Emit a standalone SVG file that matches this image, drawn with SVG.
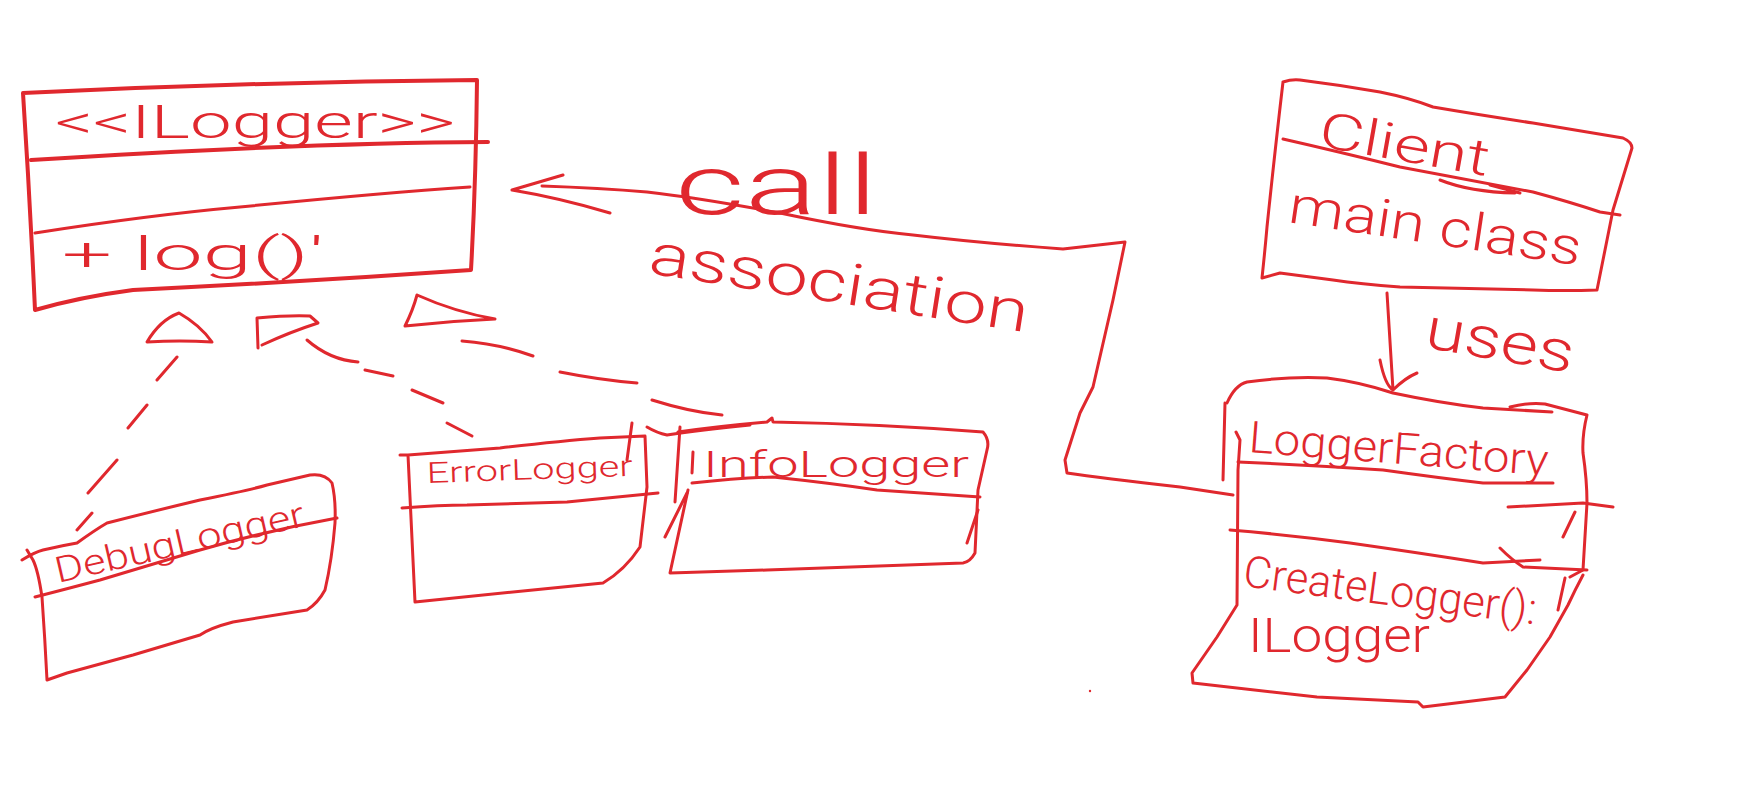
<svg xmlns="http://www.w3.org/2000/svg" width="1762" height="795" viewBox="0 0 1762 795">
<style>
.s{fill:none;stroke:#e0282e;stroke-width:3;stroke-linecap:round;stroke-linejoin:round}
.b{stroke-width:4}
.t{fill:#e0282e;font-family:Roboto,"Liberation Sans","DejaVu Sans",sans-serif;font-weight:300}
</style>
<rect width="1762" height="795" fill="#ffffff"/>

<g id="ilogger">
<path class="s b" d="M23,93 Q250,82 477,80 Q476,180 471,270 Q300,282 133,290 Q80,297 35,310 Q30,200 23,93 Z"/>
<path class="s b" d="M31,160 Q300,143 488,142"/>
<path class="s" d="M35,233 Q150,215 240,207 Q380,193 470,187"/>
<text class="t" x="55" y="138" font-size="46" textLength="400" lengthAdjust="spacingAndGlyphs">&lt;&lt;ILogger&gt;&gt;</text>
<text class="t" x="62" y="270" font-size="46" textLength="262" lengthAdjust="spacingAndGlyphs">+ log()'</text>
</g>

<g id="debuglogger">
<path class="s" d="M22,560 Q35,552 43,550 Q65,545 77,543 Q95,530 107,523 Q150,512 200,500 Q250,490 267,485 L310,475 Q325,473 332,483 Q336,500 335,523 Q332,560 325,590 Q318,603 307,610 L233,622 Q210,628 200,635 L133,655 L67,673 L47,680 Q45,640 42,597 Q38,570 33,560 Q30,555 27,550"/>
<path class="s" d="M35,597 Q70,588 100,580 Q150,565 200,550 Q270,530 337,518"/>
<text class="t" font-size="36" textLength="255" lengthAdjust="spacingAndGlyphs" transform="translate(58,583) rotate(-13)">DebugLogger</text>
</g>

<g id="errorlogger">
<path class="s" d="M400,455 L408,455 Q450,452 500,448 Q560,441 600,438 L645,436 L647,487 L640,547 Q625,570 603,583 L533,590 L415,602 L408,455"/>
<path class="s" d="M402,508 Q440,505 467,505 L567,502 L658,493"/>
<path class="s" d="M632,423 L627,460"/>
<text class="t" font-size="29" textLength="206" lengthAdjust="spacingAndGlyphs" transform="translate(427,483) rotate(-2)">ErrorLogger</text>
</g>

<g id="infologger">
<path class="s" d="M647,427 Q657,433 667,435 Q700,430 750,425"/>
<path class="s" d="M678,432 Q720,426 767,422 L772,418 L773,422 Q880,424 983,432 Q990,440 987,450 L978,490 L975,553 Q970,562 963,563 L767,570 L670,573 L688,490"/>
<path class="s" d="M692,483 Q740,478 773,477 Q830,483 877,490 L980,497"/>
<path class="s" d="M680,427 L675,502 M693,452 L692,473 M687,493 L665,537 M978,510 L967,543"/>
<text class="t" x="703" y="477" font-size="36" textLength="266" lengthAdjust="spacingAndGlyphs">InfoLogger</text>
</g>

<g id="client">
<path class="s" d="M1283,82 Q1292,79 1300,80 Q1340,85 1380,92 Q1410,98 1433,107 Q1480,115 1533,123 L1623,138 Q1632,142 1632,148 L1613,210 L1597,290 Q1565,291 1533,290 L1400,287 Q1360,284 1333,280 L1280,273 L1262,278 Q1265,250 1267,227 Q1275,150 1283,82"/>
<path class="s" d="M1283,139 Q1340,152 1400,167 Q1470,180 1533,192 Q1570,202 1600,212 L1620,215"/>
<path class="s" d="M1440,180 Q1470,192 1515,193 M1490,185 L1520,193"/>
<text class="t" font-size="50" textLength="172" lengthAdjust="spacingAndGlyphs" transform="translate(1317,146) rotate(10)">Client</text>
<text class="t" font-size="52" textLength="295" lengthAdjust="spacingAndGlyphs" transform="translate(1287,222) rotate(8.5)">main class</text>
</g>

<g id="loggerfactory">
<path class="s" d="M1227,403 Q1235,385 1247,382 Q1290,376 1327,378 Q1360,382 1393,393 Q1440,403 1483,408 L1552,412"/>
<path class="s" d="M1510,407 Q1530,402 1545,404 L1587,415 Q1582,435 1583,453 Q1587,480 1587,503 L1583,570 L1570,577"/>
<path class="s" d="M1583,575 Q1575,590 1568,605 L1550,637 L1527,670 L1505,697 L1423,707 L1418,702 L1317,697 L1193,683 L1192,673 L1217,637 L1237,605 L1238,470 L1240,440 L1236,432"/>
<path class="s" d="M1223,480 L1225,403 M1565,578 L1558,610 M1575,512 L1563,537"/>
<path class="s" d="M1238,462 Q1310,465 1383,470 Q1440,478 1483,483 L1553,483"/>
<path class="s" d="M1508,507 L1583,503 L1613,507"/>
<path class="s" d="M1230,530 Q1290,535 1350,543 Q1420,553 1483,563 L1540,560"/>
<path class="s" d="M1500,548 Q1512,560 1523,567 L1587,570"/>
<text class="t" font-size="44" textLength="300" lengthAdjust="spacingAndGlyphs" transform="translate(1248,452) rotate(4.5)">LoggerFactory</text>
<text class="t" font-size="44" textLength="295" lengthAdjust="spacingAndGlyphs" transform="translate(1242,586) rotate(7.5)">CreateLogger():</text>
<text class="t" x="1248" y="652" font-size="48" textLength="182" lengthAdjust="spacingAndGlyphs">ILogger</text>
</g>

<g id="connectors">
<path class="s" d="M147,342 Q160,320 179,313 Q200,325 212,342 Q180,340 147,342 Z"/>
<path class="s" d="M258,348 L257,318 Q290,315 310,316 L318,323 Q290,332 262,345"/>
<path class="s" d="M417,295 Q455,312 495,319 Q450,321 405,326 Q413,310 417,295 Z"/>
<path class="s" d="M177,357 L157,380 M147,405 L128,428 M117,460 L88,493 M92,513 L77,530"/>
<path class="s" d="M307,340 Q330,360 358,362 M365,370 L393,376 M412,390 L443,403 M447,423 L472,436"/>
<path class="s" d="M462,341 Q500,344 533,356 M560,372 Q600,380 637,383 M652,400 Q690,412 722,415"/>
<path class="s" d="M512,190 L563,175 M512,190 Q560,198 610,213 M542,186 Q600,188 647,192 Q700,198 780,213 Q860,230 913,235 Q980,243 1063,249 L1125,242 L1113,300 L1093,387 L1080,413 L1065,460 L1067,473 Q1100,478 1180,487 L1233,495"/>
<text class="t" x="675" y="214" font-size="84" textLength="203" lengthAdjust="spacingAndGlyphs">call</text>
<text class="t" font-size="58" textLength="383" lengthAdjust="spacingAndGlyphs" transform="translate(647,273) rotate(8.9)">association</text>
<path class="s" d="M1387,293 Q1390,340 1393,390 M1380,360 Q1385,385 1393,390 Q1405,378 1417,373"/>
<text class="t" font-size="58" textLength="150" lengthAdjust="spacingAndGlyphs" transform="translate(1423,347) rotate(10)">uses</text>
</g>
<circle cx="1090" cy="691" r="1.2" fill="#e0282e"/>
</svg>
